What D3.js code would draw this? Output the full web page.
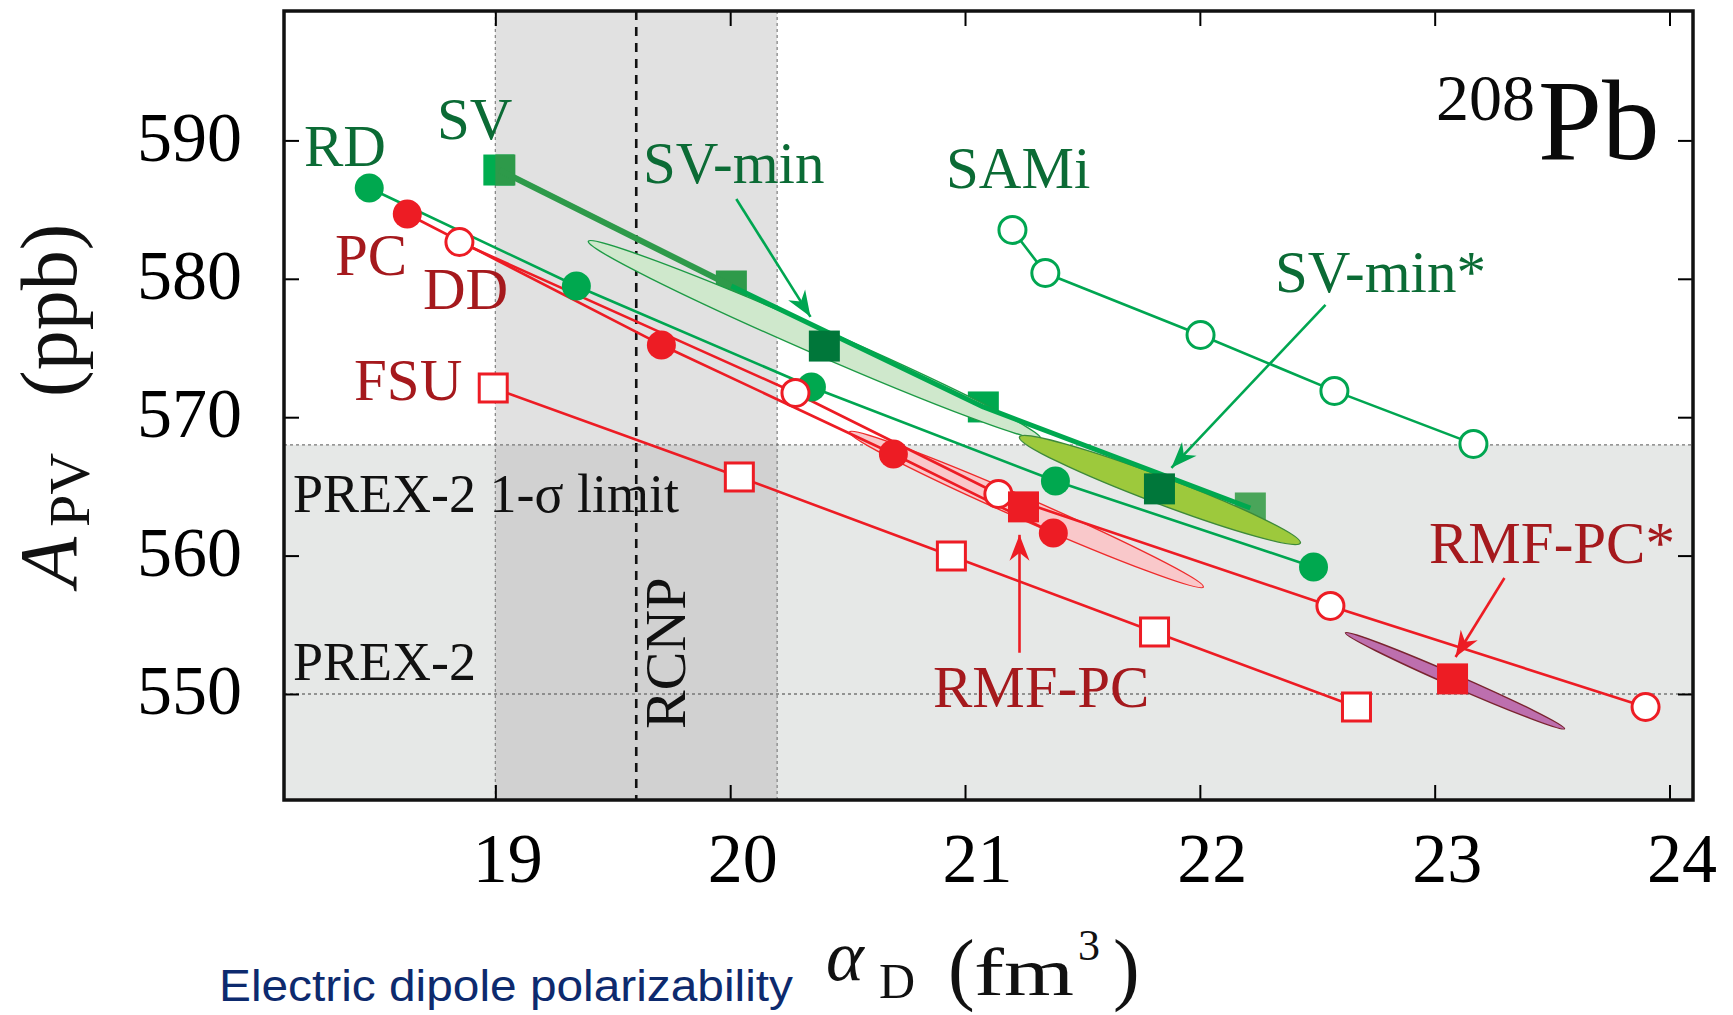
<!DOCTYPE html>
<html><head><meta charset="utf-8">
<script src="https://cdn.jsdelivr.net/npm/d3@7"></script>
<style>html,body{margin:0;padding:0;background:#fff}svg{display:block}</style>
</head><body>
<svg id="chart" width="1733" height="1015"></svg>
<script>
// ---------------- data ----------------
const xTicks = [19, 20, 21, 22, 23, 24];
const yTicks = [550, 560, 570, 580, 590];
const xDomain = [18.1, 24.1];
const yDomain = [542.34, 599.35];

const RD   = [[18.463,586.56],[19.345,579.48],[20.346,572.18],[21.385,565.39],[22.484,559.18]];
const SV   = [[19.017,587.86],[20.005,579.48],[21.078,570.74],[22.215,563.44]];
const SVmin     = [20.401,575.14];
const SVminStar = [21.828,564.82];
const SAMi = [[21.202,583.53],[21.342,580.42],[22.003,575.94],[22.573,571.90],[23.165,568.07]];
const PC   = [[18.625,584.68],[19.707,575.22],[20.695,567.34],[21.376,561.63]];
const DD   = [[18.847,582.66],[20.278,571.75],[21.142,564.45],[22.556,556.36],[23.898,549.06]];
const FSU  = [[18.991,572.11],[20.039,565.68],[20.942,559.97],[21.807,554.48],[22.667,549.06]];
const RMFPC     = [21.249,563.52];
const RMFPCstar = [23.076,551.09];

// correlation ellipses: major-axis end points
const ellSVmin     = [[19.396,582.71],[21.321,568.49]];
const ellSVminStar = [[21.232,568.57],[22.428,560.91]];
const ellRMFPC     = [[20.508,568.93],[22.015,557.73]];
const ellRMFPCstar = [[22.620,554.42],[23.553,547.49]];

// experiments
const PREX2 = 550, PREX2sigma = 18;
const RCNPval = 19.6, RCNPerr = 0.6;

// annotation arrows (from, to) in data units
const arrowSVmin     = [[20.026,585.77],[20.342,577.25]];
const arrowSVminStar = [[22.535,578.12],[21.879,566.34]];
const arrowRMFPC     = [[21.232,552.98],[21.232,561.50]];
const arrowRMFPCstar = [[23.297,558.38],[23.089,552.67]];

// ---------------- layout / style ----------------
const plot = {left:284, right:1693, top:11, bottom:800};
const serif = "'Liberation Serif','Times New Roman',serif";
const G = {line:"#00a651", fill:"#00a84f", dark:"#00773a", mid:"#2e9a4a", label:"#0b6b35"};
const R = {line:"#ed1c24", label:"#a5191d"};

const svg = d3.select("#chart");
const x = d3.scaleLinear().domain(xDomain).range([plot.left, plot.right]);
const y = d3.scaleLinear().domain(yDomain).range([plot.bottom, plot.top]);
const P = d => [x(d[0]), y(d[1])];

// defs: arrowheads
const defs = svg.append("defs");
[["ahG", G.line], ["ahR", R.line]].forEach(([id, c]) => {
  defs.append("marker").attr("id", id).attr("viewBox", "-26 -11 28 22")
    .attr("refX", 1).attr("refY", 0).attr("markerWidth", 28).attr("markerHeight", 22)
    .attr("markerUnits", "userSpaceOnUse").attr("orient", "auto")
    .append("path").attr("d", "M1,0 L-25,-10 L-17,0 L-25,10 Z").attr("fill", c);
});
defs.append("clipPath").attr("id", "clip").append("rect")
  .attr("x", plot.left).attr("y", plot.top)
  .attr("width", plot.right - plot.left).attr("height", plot.bottom - plot.top);

const g = svg.append("g").attr("clip-path", "url(#clip)");

// backgrounds
g.append("rect").attr("x", plot.left).attr("y", plot.top).attr("width", plot.right-plot.left)
  .attr("height", plot.bottom-plot.top).attr("fill", "#fff");
g.append("rect").attr("x", plot.left).attr("y", y(PREX2 + PREX2sigma))
  .attr("width", plot.right-plot.left).attr("height", plot.bottom - y(PREX2 + PREX2sigma)).attr("fill", "#e6e8e7");
g.append("rect").attr("x", x(RCNPval-RCNPerr)).attr("y", plot.top)
  .attr("width", x(RCNPval+RCNPerr)-x(RCNPval-RCNPerr)).attr("height", y(PREX2+PREX2sigma)-plot.top).attr("fill", "#e1e1e1");
g.append("rect").attr("x", x(RCNPval-RCNPerr)).attr("y", y(PREX2+PREX2sigma))
  .attr("width", x(RCNPval+RCNPerr)-x(RCNPval-RCNPerr)).attr("height", plot.bottom-y(PREX2+PREX2sigma)).attr("fill", "#d1d1d1");

// dotted guide lines
[RCNPval-RCNPerr, RCNPval+RCNPerr].forEach(v => g.append("line")
  .attr("x1", x(v)).attr("x2", x(v)).attr("y1", plot.top).attr("y2", plot.bottom)
  .attr("stroke", "#888").attr("stroke-width", 1.3).attr("stroke-dasharray", "3,3"));
[PREX2 + PREX2sigma, PREX2].forEach(v => g.append("line")
  .attr("x1", plot.left).attr("x2", plot.right).attr("y1", y(v)).attr("y2", y(v))
  .attr("stroke", "#777").attr("stroke-width", 1.3).attr("stroke-dasharray", "3,3"));
g.append("line").attr("x1", x(RCNPval)).attr("x2", x(RCNPval)).attr("y1", plot.top).attr("y2", plot.bottom)
  .attr("stroke", "#111").attr("stroke-width", 2.6).attr("stroke-dasharray", "9,7");

// experiment texts
g.append("text").attr("x", 293).attr("y", 512).attr("font-family", serif).attr("font-size", 54)
  .attr("fill", "#111").text("PREX-2 1-σ limit");
g.append("text").attr("x", 293).attr("y", 680).attr("font-family", serif).attr("font-size", 54)
  .attr("fill", "#111").text("PREX-2");
g.append("text").attr("transform", "translate(685,729) rotate(-90)").attr("font-family", serif)
  .attr("font-size", 58).attr("fill", "#111").text("RCNP");

// helpers
const line = d3.line().x(d => x(d[0])).y(d => y(d[1]));
function drawLine(data, color, w) {
  g.append("path").attr("d", line(data)).attr("fill", "none").attr("stroke", color)
    .attr("stroke-width", w).attr("stroke-linejoin", "round");
}
function circles(data, stroke, fill, r) {
  g.selectAll(null).data(data).enter().append("circle")
    .attr("cx", d => x(d[0])).attr("cy", d => y(d[1])).attr("r", r)
    .attr("fill", fill).attr("stroke", stroke).attr("stroke-width", fill === "#fff" ? 3 : 0);
}
function squares(data, stroke, fill, s, sw) {
  g.selectAll(null).data(data).enter().append("rect")
    .attr("x", d => x(d[0]) - s/2).attr("y", d => y(d[1]) - s/2).attr("width", s).attr("height", s)
    .attr("fill", fill).attr("stroke", stroke).attr("stroke-width", sw);
}
function ellipse(ends, fill, stroke, width) {
  const [a, b] = [P(ends[0]), P(ends[1])];
  const cx = (a[0]+b[0])/2, cy = (a[1]+b[1])/2;
  const len = Math.hypot(b[0]-a[0], b[1]-a[1]);
  const ang = Math.atan2(b[1]-a[1], b[0]-a[0]) * 180 / Math.PI;
  g.append("ellipse").attr("cx", 0).attr("cy", 0).attr("rx", len/2).attr("ry", width/2)
    .attr("transform", `translate(${cx},${cy}) rotate(${ang})`)
    .attr("fill", fill).attr("stroke", stroke).attr("stroke-width", 1.4);
}

// SV squares (underneath)
const svColors = ["#2e9a4a", "#2e9a4a", "#00a84f", "#4aa55a"];
g.append("rect").attr("x", x(SV[0][0]) - 16).attr("y", y(SV[0][1]) - 15.5).attr("width", 31).attr("height", 31).attr("fill", "#00ad4f");
g.selectAll(null).data(SV).enter().append("rect")
  .attr("x", (d,i) => x(d[0]) - (i === 0 ? 4 : 15.5)).attr("y", d => y(d[1]) - 15.5)
  .attr("width", (d,i) => i === 0 ? 20 : 31).attr("height", 31)
  .attr("fill", (d,i) => svColors[i]);

// ellipses
ellipse(ellSVmin, "#cfe8cc", "#1d9a45", 26);
ellipse(ellRMFPC, "#f9c8ca", "#ee2b2b", 22);
ellipse(ellSVminStar, "#9dc93c", "#3d8a3a", 27);
ellipse(ellRMFPCstar, "#bd6fae", "#7a2430", 12);

// SV thick line
drawLine(SV.slice(0, 2), G.mid, 6);
drawLine(SV.slice(1), G.fill, 5);

// other model lines
drawLine(RD, G.line, 2.6);
drawLine(SAMi, G.line, 2.6);
drawLine(PC, R.line, 2.6);
drawLine(DD, R.line, 2.6);
drawLine(FSU, R.line, 2.6);

// markers
circles(RD, G.fill, G.fill, 14.5);
circles(SAMi, G.line, "#fff", 13.5);
circles(PC, R.line, R.line, 14.5);
circles(DD, R.line, "#fff", 13.5);
squares(FSU, R.line, "#fff", 28, 3);
squares([SVmin, SVminStar], "none", G.dark, 31, 0);
squares([RMFPC, RMFPCstar], "none", R.line, 31, 0);

// arrows
function arrow(ft, color, mk) {
  const [a, b] = [P(ft[0]), P(ft[1])];
  svg.append("line").attr("x1", a[0]).attr("y1", a[1]).attr("x2", b[0]).attr("y2", b[1])
    .attr("stroke", color).attr("stroke-width", 2.6).attr("marker-end", `url(#${mk})`);
}
arrow(arrowSVmin, G.line, "ahG");
arrow(arrowSVminStar, G.line, "ahG");
arrow(arrowRMFPC, R.line, "ahR");
arrow(arrowRMFPCstar, R.line, "ahR");

// model labels
const labels = [
  ["RD", 304, 166, G.label], ["SV", 437, 139, G.label], ["SV-min", 643, 183, G.label],
  ["SAMi", 946, 188, G.label], ["SV-min*", 1275, 292, G.label],
  ["PC", 335, 275, R.label], ["DD", 423, 309, R.label], ["FSU", 354, 400, R.label],
  ["RMF-PC", 933, 707, R.label], ["RMF-PC*", 1429, 563, R.label]
];
svg.selectAll(null).data(labels).enter().append("text")
  .attr("x", d => d[1]).attr("y", d => d[2]).attr("fill", d => d[3])
  .attr("font-family", serif).attr("font-size", 59).text(d => d[0]);

// nucleus label
const nuc = svg.append("text").attr("font-family", serif).attr("fill", "#0a0a0a");
nuc.append("tspan").attr("x", 1436).attr("y", 120).attr("font-size", 66).text("208");
nuc.append("tspan").attr("x", 1538).attr("y", 159).attr("font-size", 115).text("Pb");

// axes (ticks inward on all sides)
const axB = svg.append("g").attr("transform", `translate(0,${plot.bottom})`)
  .call(d3.axisBottom(x).tickValues(xTicks).tickSizeInner(-15).tickSizeOuter(0).tickPadding(32).tickFormat(d3.format("d")));
axB.selectAll("text").attr("font-family", serif).attr("font-size", 70).attr("fill", "#000").attr("dx", 12);
const axL = svg.append("g").attr("transform", `translate(${plot.left},0)`)
  .call(d3.axisLeft(y).tickValues(yTicks).tickSizeInner(-15).tickSizeOuter(0).tickPadding(42).tickFormat(d3.format("d")));
axL.selectAll("text").attr("font-family", serif).attr("font-size", 70).attr("fill", "#000").attr("dy", "0.28em");
const axT = svg.append("g").attr("transform", `translate(0,${plot.top})`)
  .call(d3.axisTop(x).tickValues(xTicks).tickSizeInner(-15).tickSizeOuter(0).tickFormat(""));
const axR = svg.append("g").attr("transform", `translate(${plot.right},0)`)
  .call(d3.axisRight(y).tickValues(yTicks).tickSizeInner(-15).tickSizeOuter(0).tickFormat(""));
[axB, axL, axT, axR].forEach(a => {
  a.select(".domain").remove();
  a.selectAll(".tick line").attr("stroke", "#000").attr("stroke-width", 2);
});
svg.append("rect").attr("x", plot.left).attr("y", plot.top)
  .attr("width", plot.right-plot.left).attr("height", plot.bottom-plot.top)
  .attr("fill", "none").attr("stroke", "#111").attr("stroke-width", 3.5);

// y axis title
const yt = svg.append("text").attr("transform", "translate(76,587) rotate(-90)")
  .attr("font-family", serif).attr("fill", "#111");
yt.append("tspan").attr("x", 0).attr("y", 0).attr("font-size", 82).attr("font-style", "italic").text("A");
yt.append("tspan").attr("x", 60).attr("y", 13).attr("font-size", 58).text("PV");
yt.append("tspan").attr("x", 190).attr("y", 0).attr("font-size", 80).text("(ppb)");

// x axis title
const xt = svg.append("text").attr("font-family", serif).attr("fill", "#111");
xt.append("tspan").attr("x", 826).attr("y", 980).attr("font-size", 72).attr("font-style", "italic").text("α");
xt.append("tspan").attr("x", 879).attr("y", 998).attr("font-size", 50).text("D");
xt.append("tspan").attr("x", 948).attr("y", 995).attr("font-size", 80).text("(");
xt.append("tspan").attr("x", 974).attr("y", 995).attr("font-size", 68).attr("textLength", 100).attr("lengthAdjust", "spacingAndGlyphs").text("fm");
xt.append("tspan").attr("x", 1078).attr("y", 960).attr("font-size", 44).text("3");
xt.append("tspan").attr("x", 1113).attr("y", 995).attr("font-size", 80).text(")");

svg.append("text").attr("x", 219).attr("y", 1001).attr("font-family", "'Liberation Sans',Arial,sans-serif")
  .attr("font-size", 45).attr("fill", "#0d2a6e").attr("textLength", 574).attr("lengthAdjust", "spacingAndGlyphs")
  .text("Electric dipole polarizability");
</script>
</body></html>
